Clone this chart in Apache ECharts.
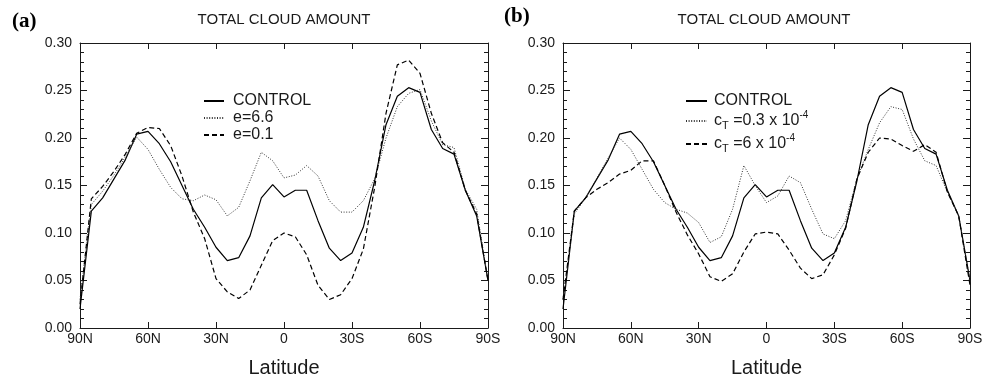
<!DOCTYPE html>
<html>
<head>
<meta charset="utf-8">
<script src="https://cdn.jsdelivr.net/npm/echarts@6/dist/echarts.min.js"></script>
<style>
  html, body { margin: 0; padding: 0; background: #fff; }
  #chart { width: 995px; height: 383px; }
</style>
</head>
<body>
<div id="chart"></div>
<script>
// Latitudes every 5 degrees, north positive (90N ... 90S)
const latitudes = [90, 85, 80, 75, 70, 65, 60, 55, 50, 45, 40, 35, 30, 25, 20, 15, 10, 5, 0,
  -5, -10, -15, -20, -25, -30, -35, -40, -45, -50, -55, -60, -65, -70, -75, -80, -85, -90];

// Zonal-mean total cloud amount
const control = [0.020, 0.123, 0.137, 0.157, 0.177, 0.204, 0.207, 0.194, 0.175, 0.150, 0.125, 0.106, 0.085,
  0.071, 0.074, 0.097, 0.137, 0.151, 0.138, 0.145, 0.145, 0.113, 0.084, 0.071, 0.079,
  0.106, 0.155, 0.214, 0.244, 0.253, 0.248, 0.209, 0.189, 0.183, 0.145, 0.118, 0.050];

const e66 = [0.030, 0.130, 0.144, 0.161, 0.180, 0.201, 0.188, 0.167, 0.148, 0.136, 0.134, 0.140, 0.135,
  0.118, 0.127, 0.155, 0.185, 0.176, 0.158, 0.161, 0.171, 0.160, 0.134, 0.122, 0.122,
  0.134, 0.157, 0.200, 0.233, 0.247, 0.251, 0.218, 0.193, 0.190, 0.146, 0.125, 0.050];

const e01 = [0.025, 0.136, 0.149, 0.165, 0.183, 0.205, 0.211, 0.210, 0.192, 0.160, 0.122, 0.094, 0.052,
  0.038, 0.031, 0.040, 0.066, 0.092, 0.100, 0.096, 0.077, 0.045, 0.030, 0.035, 0.052,
  0.083, 0.148, 0.226, 0.277, 0.282, 0.268, 0.226, 0.195, 0.185, 0.145, 0.120, 0.050];

const ctLow = [0.030, 0.120, 0.137, 0.158, 0.179, 0.200, 0.188, 0.167, 0.146, 0.132, 0.125, 0.121, 0.111,
  0.090, 0.096, 0.125, 0.171, 0.150, 0.132, 0.139, 0.160, 0.153, 0.125, 0.099, 0.094,
  0.113, 0.157, 0.188, 0.216, 0.233, 0.230, 0.199, 0.176, 0.171, 0.143, 0.118, 0.050];

const ctHigh = [0.030, 0.123, 0.137, 0.146, 0.153, 0.162, 0.166, 0.176, 0.176, 0.150, 0.122, 0.098, 0.078,
  0.054, 0.049, 0.057, 0.080, 0.099, 0.101, 0.099, 0.082, 0.063, 0.052, 0.056, 0.077,
  0.105, 0.157, 0.185, 0.200, 0.199, 0.192, 0.186, 0.193, 0.185, 0.143, 0.118, 0.045];

const xTicks = { min: -90, max: 90, interval: 30 };
const yTicks = { min: 0, max: 0.30, interval: 0.05 };
const titleText = 'TOTAL CLOUD AMOUNT';
const axisTitle = 'Latitude';

const FONT = '"Liberation Sans", Arial, Helvetica, sans-serif';
const INK = '#1a1a1a';

function pairs(vals) { return latitudes.map((lat, i) => [lat, vals[i]]); }

function latLabel(v) {
  if (v > 0) return v + 'N';
  if (v < 0) return (-v) + 'S';
  return '0';
}

const grids = [
  { left: 80, top: 43, width: 408, height: 287 },
  { left: 563, top: 43, width: 407, height: 287 }
];

const xAxes = [];
const yAxes = [];
grids.forEach((g, gi) => {
  const lineStyle = { color: INK, width: 1 };
  xAxes.push({
    type: 'value', gridIndex: gi, position: 'bottom', inverse: true,
    min: xTicks.min, max: xTicks.max, interval: xTicks.interval,
    axisLine: { show: true, onZero: false, lineStyle },
    axisTick: { show: true, inside: true, length: 6, lineStyle },
    axisLabel: { show: true, margin: 4, fontSize: 14, fontFamily: FONT, color: INK, formatter: latLabel },
    splitLine: { show: false },
    name: axisTitle, nameLocation: 'middle', nameGap: 30,
    nameTextStyle: { fontSize: 20, fontFamily: FONT, color: INK }
  });
  xAxes.push({
    type: 'value', gridIndex: gi, position: 'top', inverse: true,
    min: xTicks.min, max: xTicks.max, interval: xTicks.interval,
    axisLine: { show: true, onZero: false, lineStyle },
    axisTick: { show: true, inside: true, length: 6, lineStyle },
    axisLabel: { show: false },
    splitLine: { show: false }
  });
  yAxes.push({
    type: 'value', gridIndex: gi, position: 'left',
    min: yTicks.min, max: yTicks.max, interval: yTicks.interval,
    axisLine: { show: true, onZero: false, lineStyle },
    axisTick: { show: true, inside: true, length: 7, lineStyle },
    minorTick: { show: true, splitNumber: 5, length: 4, lineStyle },
    axisLabel: { show: true, margin: 8, fontSize: 14, fontFamily: FONT, color: INK,
      formatter: v => v.toFixed(2) },
    splitLine: { show: false }
  });
  yAxes.push({
    type: 'value', gridIndex: gi, position: 'right',
    min: yTicks.min, max: yTicks.max, interval: yTicks.interval,
    axisLine: { show: true, onZero: false, lineStyle },
    axisTick: { show: true, inside: true, length: 7, lineStyle },
    minorTick: { show: true, splitNumber: 5, length: 4, lineStyle },
    axisLabel: { show: false },
    splitLine: { show: false }
  });
});

const solid = { color: '#000', width: 1.2, type: 'solid' };
const dotted = { color: '#333', width: 1, type: [1, 1.6] };
const dashed = { color: '#000', width: 1.2, type: [5, 3] };

function line(name, vals, style, panel) {
  return {
    name, type: 'line', data: pairs(vals),
    xAxisIndex: panel * 2, yAxisIndex: panel * 2,
    symbol: 'none', smooth: false, silent: true, animation: false,
    color: style.color,
    lineStyle: style
  };
}

const NAME_LOW = 'cT 0.3e-4';
const NAME_HIGH = 'cT 6e-4';

const legendRich = {
  b: { fontSize: 16, fontFamily: FONT, color: INK, lineHeight: 14 },
  sub: { fontSize: 11, fontFamily: FONT, color: INK, lineHeight: 14, padding: [9, 0, 0, 0] },
  sup: { fontSize: 10, fontFamily: FONT, color: INK, lineHeight: 14, padding: [0, 0, 12, 0] }
};

function legendText(name) {
  if (name === NAME_LOW) return '{b|c}{sub|T}{b| =0.3 x 10}{sup|-4}';
  if (name === NAME_HIGH) return '{b|c}{sub|T}{b| =6 x 10}{sup|-4}';
  return '{b|' + name + '}';
}

// Legend keys: just the line sample, no marker
const legendCommon = {
  top: 93, orient: 'vertical', padding: 0, itemGap: 1,
  itemHeight: 10, selectedMode: false,
  itemStyle: { opacity: 0, borderWidth: 0 },
  formatter: legendText
};

const option = {
  animation: false,
  backgroundColor: '#fff',
  grid: grids,
  xAxis: xAxes,
  yAxis: yAxes,
  legend: [
    Object.assign({}, legendCommon, {
      left: 203, itemWidth: 20,
      data: ['CONTROL', 'e=6.6', 'e=0.1'],
      textStyle: { fontSize: 16, fontFamily: FONT, color: INK, lineHeight: 14, padding: [0, 0, 0, 4], rich: legendRich }
    }),
    Object.assign({}, legendCommon, {
      left: 685, itemWidth: 21,
      data: ['CONTROL', NAME_LOW, NAME_HIGH],
      textStyle: { fontSize: 16, fontFamily: FONT, color: INK, lineHeight: 14, padding: [0, 0, 0, 2], rich: legendRich }
    })
  ],
  graphic: [
    { type: 'text', left: 12, top: 11, style: { text: '(a)', font: 'bold 21px "Liberation Serif", "Times New Roman", serif', fill: '#000' } },
    { type: 'text', left: 504, top: 6, style: { text: '(b)', font: 'bold 21px "Liberation Serif", "Times New Roman", serif', fill: '#000' } },
    { type: 'text', x: 284, y: 20, style: { text: titleText, font: '15px ' + FONT, fill: INK, textAlign: 'center', textVerticalAlign: 'middle' } },
    { type: 'text', x: 764, y: 20, style: { text: titleText, font: '15px ' + FONT, fill: INK, textAlign: 'center', textVerticalAlign: 'middle' } }
  ],
  series: [
    line('CONTROL', control, solid, 0),
    line('e=6.6', e66, dotted, 0),
    line('e=0.1', e01, dashed, 0),
    line('CONTROL', control, solid, 1),
    line(NAME_LOW, ctLow, dotted, 1),
    line(NAME_HIGH, ctHigh, dashed, 1)
  ]
};

const chart = echarts.init(document.getElementById('chart'), null, { renderer: 'canvas' });
chart.setOption(option);
</script>
</body>
</html>
